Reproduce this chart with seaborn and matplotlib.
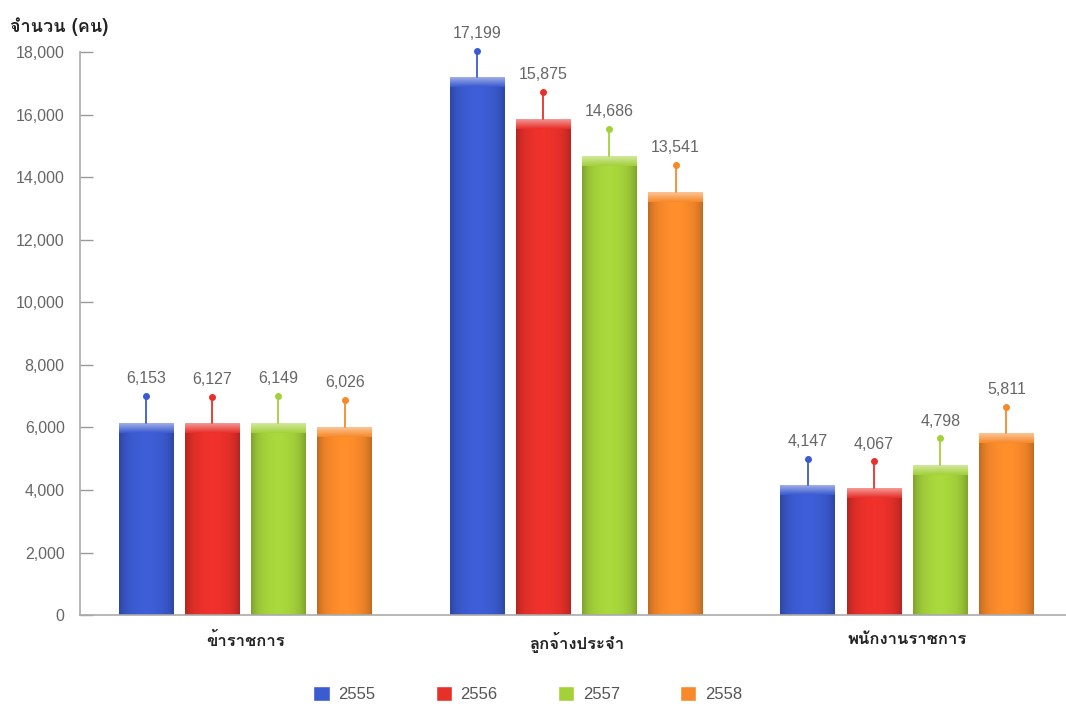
import matplotlib
matplotlib.use("Agg")
import matplotlib.pyplot as plt
from matplotlib import font_manager
from matplotlib.ft2font import FT2Font
from matplotlib.colors import to_rgb
import numpy as np
import seaborn as sns
import pandas as pd

# Data
categories = ["ข้าราชการ", "ลูกจ้างประจำ", "พนักงานราชการ"]
years = ["2555", "2556", "2557", "2558"]
counts_2555 = [6153, 17199, 4147]
counts_2556 = [6127, 15875, 4067]
counts_2557 = [6149, 14686, 4798]
counts_2558 = [6026, 13541, 5811]
y_ticks = [0, 2000, 4000, 6000, 8000, 10000, 12000, 14000, 16000, 18000]
y_label = "จำนวน (คน)"

palette = ["#3b5bd0", "#e8302a", "#a3d13a", "#f7892a"]


def thai_fonts():
    found = []
    for f in font_manager.fontManager.ttflist:
        try:
            cmap = FT2Font(f.fname).get_charmap()
        except Exception:
            continue
        if 0x0E08 in cmap and 0x0E33 in cmap:
            found.append(f.name)
    return list(dict.fromkeys(found))


def shade_bar(ax, bar, color):
    """Fill a bar with a soft horizontal gradient and a light top bevel."""
    base = np.array(to_rgb(color))
    x0, y0 = bar.get_x(), bar.get_y()
    w, h = bar.get_width(), bar.get_height()
    t = np.linspace(-1, 1, 64)
    # slightly darker towards both sides
    factor = 1.0 - 0.22 * np.abs(t) ** 4 + 0.04 * np.exp(-(t / 0.4) ** 2)
    row = np.clip(base[None, :] * factor[:, None], 0, 1)
    img = np.repeat(row[None, :, :], 2, axis=0)
    im = ax.imshow(img, extent=(x0, x0 + w, y0, y0 + h), aspect="auto",
                   interpolation="bicubic", zorder=2)
    im.set_clip_path(bar)
    # light bevel strip along the top edge
    top_h = 320
    light = np.clip(base + (1 - base) * 0.55, 0, 1)
    grad = np.linspace(0, 1, 16)[:, None]
    band = light[None, :] * (1 - grad) + base[None, :] * grad
    band_img = np.repeat(band[:, None, :], 2, axis=1)
    im2 = ax.imshow(band_img, extent=(x0, x0 + w, y0 + h - top_h, y0 + h), aspect="auto",
                    interpolation="bicubic", zorder=2.1, origin="upper")
    im2.set_clip_path(bar)


sns.set_theme(style="white")
thai = thai_fonts()
plt.rcParams["font.family"] = thai + ["DejaVu Sans"]
text_family = ["Liberation Sans", "DejaVu Sans"]

df = pd.DataFrame({
    "category": categories * 4,
    "year": [y for y in years for _ in categories],
    "count": counts_2555 + counts_2556 + counts_2557 + counts_2558,
})

fig = plt.figure(figsize=(10.66, 7.07), dpi=100)
ax = fig.add_axes([0.075, 0.13, 0.925, 0.7964])

sns.barplot(data=df, x="category", y="count", hue="year", order=categories,
            hue_order=years, palette=palette, width=0.8, gap=0.17,
            saturation=1, errorbar=None, ax=ax, legend=True)

# shading, value pins and labels
for container, color in zip(ax.containers, palette):
    for bar in container:
        bar.set_linewidth(0)
        shade_bar(ax, bar, color)
        h = bar.get_height()
        xc = bar.get_x() + bar.get_width() / 2
        ax.plot([xc, xc], [h, h + 850], color=color, lw=1.3, clip_on=False, zorder=3)
        ax.plot([xc], [h + 850], marker="o", ms=4, color=color, clip_on=False, zorder=4)
        ax.annotate(f"{int(h):,}", (xc, h + 850), xytext=(0, 7), textcoords="offset points",
                    ha="center", va="bottom", fontsize=11.5, color="#666666",
                    family=text_family, annotation_clip=False)

ax.set_ylim(0, 18000)
ax.set_xlim(-0.5, 2.48)
ax.set_yticks(y_ticks)
ax.set_yticklabels([f"{v:,}" for v in y_ticks], family=text_family, fontsize=11.5,
                   color="#666666")
ax.tick_params(axis="y", direction="in", length=9, width=1, color="#999999", pad=11, left=True)
ax.tick_params(axis="x", length=0, pad=12)
for lbl in ax.get_xticklabels():
    lbl.set_fontsize(12)
    lbl.set_fontweight("bold")
    lbl.set_color("#222222")

for side in ["top", "right"]:
    ax.spines[side].set_visible(False)
for side in ["left", "bottom"]:
    ax.spines[side].set_color("#aaaaaa")
    ax.spines[side].set_linewidth(1.2)
ax.spines["left"].set_linestyle((0, (2, 1)))

ax.set_xlabel("")
ax.set_ylabel("")
fig.text(0.009, 0.963, y_label, fontsize=13, fontweight="bold", color="#222222",
         ha="left", va="center")

handles, labels = ax.get_legend_handles_labels()
ax.legend_.remove()
leg = fig.legend(handles, labels, loc="center", bbox_to_anchor=(0.495, 0.018), ncol=4,
                 frameon=False, handlelength=1.0, handleheight=1.0, handletextpad=0.5,
                 columnspacing=3.6, prop={"family": text_family, "size": 12})
for t in leg.get_texts():
    t.set_color("#555555")

fig.savefig("out.png", dpi=100)
